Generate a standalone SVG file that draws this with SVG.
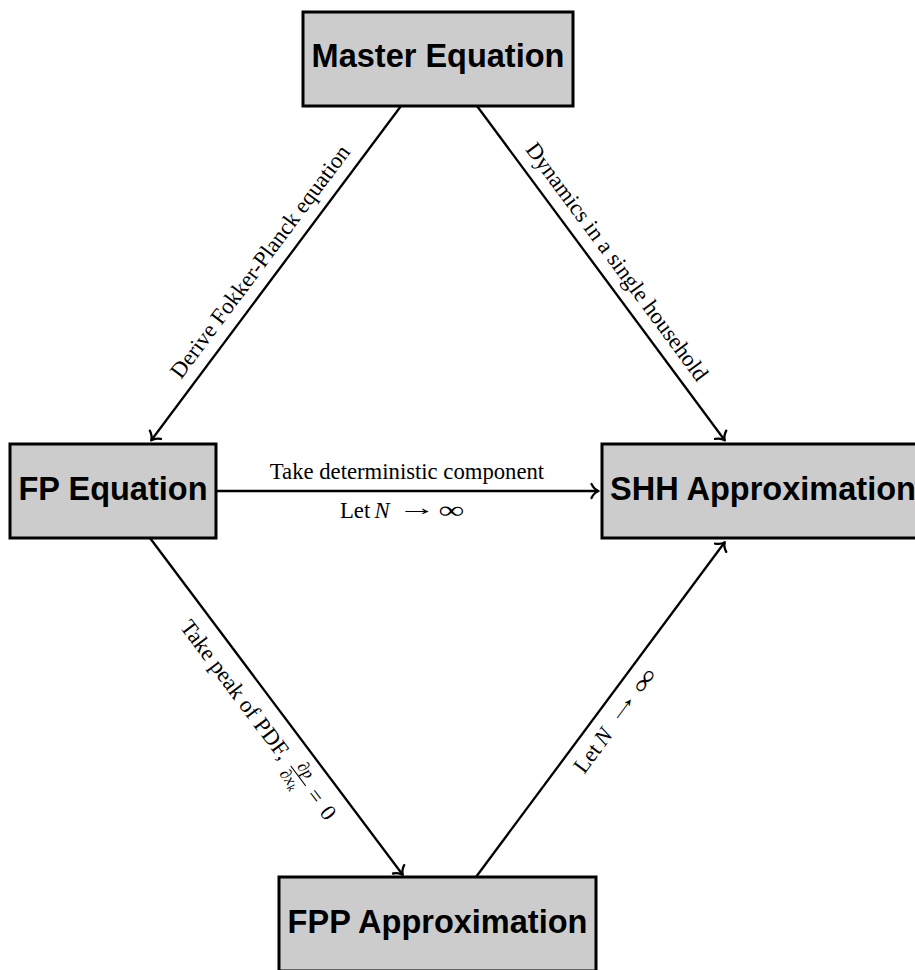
<svg xmlns="http://www.w3.org/2000/svg" width="915" height="970" viewBox="0 0 915 970">
<style>
.box{fill:#cccccc;stroke:#000;stroke-width:3}
.nt{font-family:"Liberation Sans",Arial,Helvetica,sans-serif;font-weight:bold;font-size:32.5px;text-anchor:middle;fill:#000}
.lbl{font-family:"Liberation Serif","Times New Roman","DejaVu Serif",serif;font-size:22.7px;fill:#000}
.it{font-style:italic}
.sm{font-size:16.5px;font-style:italic}
.edge{stroke:#000;stroke-width:2.3;fill:none;marker-end:url(#arr)}
</style>
<defs>
<marker id="arr" markerUnits="userSpaceOnUse" markerWidth="20" markerHeight="20" viewBox="-10 -10 20 20" refX="0" refY="0" orient="auto" overflow="visible">
<path d="M-6.5,-7 C-4.5,-3 -1.5,-0.7 0.5,0 C-1.5,0.7 -4.5,3 -6.5,7" fill="none" stroke="#000" stroke-width="2.3" stroke-linecap="round" stroke-linejoin="round"/>
</marker>
</defs>
<rect width="915" height="970" fill="#fff"/>
<g id="connectors">
<path class="edge" d="M401,106 L151.5,440"/>
<path class="edge" d="M477,106 L724.5,440"/>
<path class="edge" d="M216,491 L598,491"/>
<path class="edge" d="M150,538 L402.5,874.5"/>
<path class="edge" d="M476,877 L724.5,542.5"/>
<g transform="translate(276,273.5) rotate(-53.27)"><text class="lbl" x="0" y="-12.5" text-anchor="middle">Derive Fokker-Planck equation</text></g>
<g transform="translate(601,273.5) rotate(53.5)"><text class="lbl" x="0" y="-12.5" text-anchor="middle">Dynamics in a single household</text></g>
<text class="lbl" x="407" y="479" text-anchor="middle">Take deterministic component</text>
<g transform="translate(402.5,518)">
<text class="lbl" x="-62.5" y="0">Let</text>
<text class="lbl it" x="-28" y="0" font-size="24px">N</text>
<text class="lbl" transform="translate(-5,-3.5) scale(1.7,1)">→</text>
<text class="lbl" transform="translate(36,0) scale(1.6,1.05)">∞</text>
</g>
<g transform="translate(276.5,706.5) rotate(53.1)">
<text class="lbl" x="-122" y="30">Take peak of PDF,</text>
<text class="lbl sm" x="68.5" y="20" text-anchor="middle">∂p</text>
<line x1="56" y1="24.3" x2="81" y2="24.3" stroke="#000" stroke-width="1"/>
<text class="lbl sm" x="66" y="38.5" text-anchor="middle">∂x<tspan font-size="11.8px" dy="2.5">k</tspan></text>
<text class="lbl" x="95" y="30" text-anchor="middle">=</text>
<text class="lbl" x="116" y="30" text-anchor="middle">0</text>
</g>
<g transform="translate(600.5,709) rotate(-53.5) translate(0,26)">
<text class="lbl" x="-62.5" y="0">Let</text>
<text class="lbl it" x="-28" y="0" font-size="24px">N</text>
<text class="lbl" transform="translate(-5,-3.5) scale(1.7,1)">→</text>
<text class="lbl" transform="translate(36,0) scale(1.6,1.05)">∞</text>
</g>
</g>
<g id="master"><rect class="box" x="303" y="12" width="270" height="94"/><text class="nt" x="438" y="67">Master Equation</text></g>
<g id="fp"><rect class="box" x="10" y="444" width="206" height="94"/><text class="nt" x="113" y="499.5">FP Equation</text></g>
<g id="shh"><rect class="box" x="602" y="444" width="322" height="94"/><text class="nt" x="763" y="500">SHH Approximation</text></g>
<g id="fpp"><rect class="box" x="279" y="877" width="317" height="94"/><text class="nt" x="437.5" y="933">FPP Approximation</text></g>
</svg>
